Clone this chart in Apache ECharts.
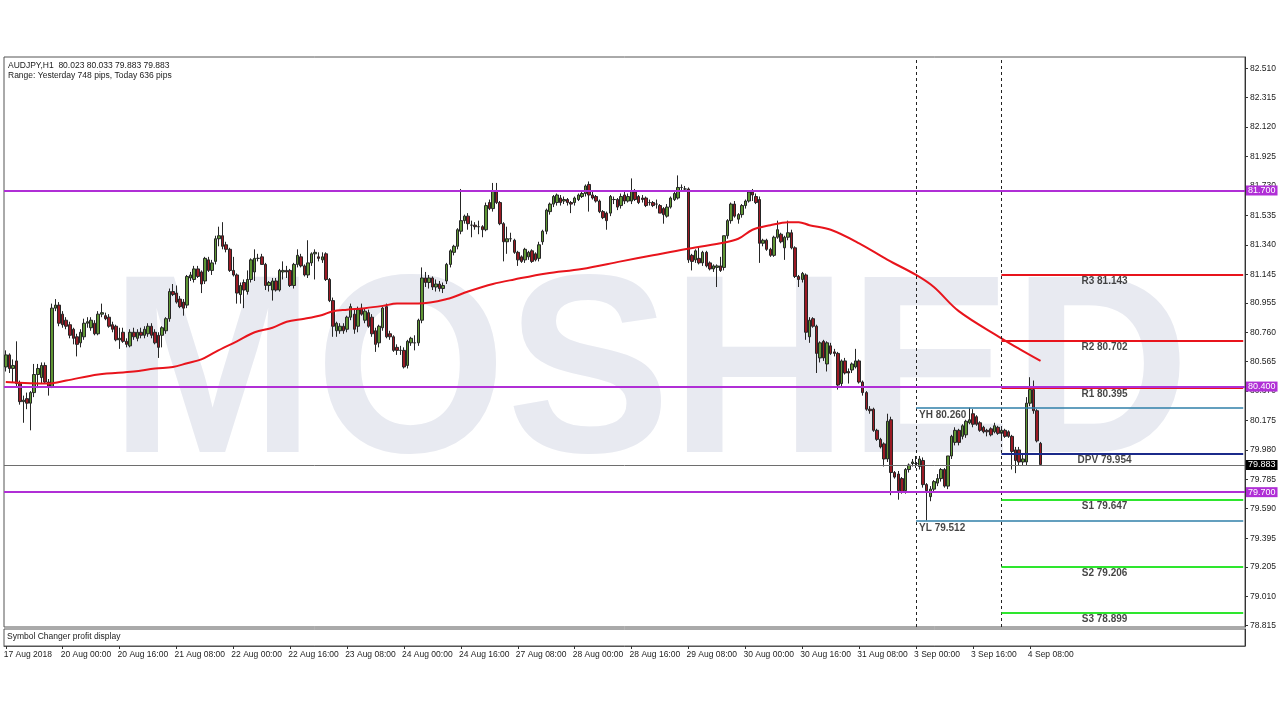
<!DOCTYPE html>
<html><head><meta charset="utf-8">
<script src="https://cdn.jsdelivr.net/npm/echarts@6/dist/echarts.min.js"></script>
<style>html,body{margin:0;padding:0;background:#fff}#c{width:1280px;height:720px}</style>
</head><body><div id="c"></div>
<script>
// ---- DATA ----
const dayList = [['17 Aug',8,24],['20 Aug',0,24],['21 Aug',0,24],['22 Aug',0,24],['23 Aug',0,24],['24 Aug',0,24],
  ['27 Aug',0,24],['28 Aug',0,24],['29 Aug',0,24],['30 Aug',0,24],['31 Aug',0,24],['3 Sep',0,24],['4 Sep',0,24],['5 Sep',0,24],['6 Sep',0,21]];
const xTickLabels = ['17 Aug 2018','20 Aug 00:00','20 Aug 16:00','21 Aug 08:00','22 Aug 00:00','22 Aug 16:00','23 Aug 08:00',
  '24 Aug 00:00','24 Aug 16:00','27 Aug 08:00','28 Aug 00:00','28 Aug 16:00','29 Aug 08:00','30 Aug 00:00','30 Aug 16:00',
  '31 Aug 08:00','3 Sep 00:00','3 Sep 16:00','4 Sep 08:00'];
const yTicks = [82.510,82.315,82.120,81.925,81.730,81.535,81.340,81.145,80.955,80.760,80.565,80.370,80.175,79.980,79.785,79.590,79.395,79.205,79.010,78.815];

const opens = [
80.53,80.61,80.52,80.57,80.42,80.30,80.32,80.29,80.36,80.48,
80.46,80.54,80.43,80.40,80.92,80.94,80.88,80.84,80.81,80.78,
80.73,80.69,80.73,80.82,80.79,80.82,80.75,80.88,80.87,80.86,
80.81,80.80,80.71,80.76,80.70,80.67,80.76,80.72,80.76,80.74,
80.75,80.80,80.76,80.74,80.74,80.77,80.85,81.03,81.02,80.98,
80.96,80.94,81.12,81.11,81.18,81.16,81.10,81.24,81.17,81.23,
81.38,81.40,81.34,81.31,81.17,81.14,81.01,81.09,81.03,81.11,
81.16,81.25,81.26,81.21,81.07,81.04,81.10,81.04,81.16,81.17,
81.17,81.07,81.21,81.26,81.20,81.14,81.22,81.28,81.26,81.24,
81.28,81.11,80.97,80.77,80.77,80.80,80.78,80.86,80.88,80.80,
80.92,80.84,80.89,80.86,80.77,80.69,80.79,80.93,80.75,80.73,
80.66,80.64,80.64,80.54,80.69,80.69,80.69,80.84,81.12,81.09,
81.12,81.06,81.08,81.05,81.10,81.21,81.29,81.33,81.43,81.50,
81.53,81.47,81.47,81.46,81.46,81.44,81.62,81.58,81.70,81.62,
81.48,81.36,81.38,81.37,81.29,81.26,81.24,81.26,81.30,81.28,
81.25,81.36,81.43,81.56,81.61,81.62,81.65,81.63,81.64,81.62,
81.62,81.64,81.66,81.68,81.74,81.67,81.66,81.63,81.56,81.55,
81.55,81.64,81.64,81.60,81.67,81.63,81.63,81.69,81.66,81.65,
81.65,81.62,81.62,81.61,81.60,81.58,81.53,81.59,81.64,81.65,
81.72,81.71,81.71,81.27,81.24,81.25,81.22,81.29,81.22,81.18,
81.19,81.20,81.19,81.40,81.50,81.61,81.51,81.54,81.60,81.63,
81.69,81.66,81.64,81.35,81.37,81.31,81.27,81.39,81.41,81.32,
81.39,81.42,81.32,81.13,81.11,81.14,80.73,80.85,80.80,80.59,
80.70,80.55,80.67,80.63,80.62,80.42,80.57,80.50,80.51,80.53,
80.57,80.43,80.36,80.25,80.25,80.11,80.05,80.02,79.92,80.18,
79.83,79.82,79.79,79.71,79.85,79.89,79.89,79.87,79.91,79.75,
79.67,79.72,79.76,79.79,79.85,79.74,79.94,80.03,80.11,80.07,
80.08,80.16,80.22,80.20,80.16,80.13,80.11,80.12,80.10,80.13,
80.09,80.11,80.10,80.07,79.98,79.98,79.90,79.90,80.29,80.38,
80.24,80.023];
const highs = [
80.64,80.62,80.58,80.70,80.44,80.34,80.36,80.37,80.55,80.55,
80.56,80.56,80.45,80.95,80.98,80.96,80.90,80.86,80.83,80.79,
80.75,80.78,80.85,80.86,80.86,80.84,80.90,80.95,80.89,80.88,
80.83,80.81,80.79,80.79,80.72,80.78,80.79,80.78,80.79,80.80,
80.82,80.82,80.78,80.76,80.80,80.86,81.05,81.08,81.07,81.00,
80.98,81.14,81.16,81.20,81.20,81.17,81.26,81.26,81.24,81.40,
81.46,81.49,81.36,81.32,81.26,81.15,81.09,81.11,81.17,81.25,
81.31,81.28,81.28,81.22,81.10,81.12,81.12,81.18,81.23,81.20,
81.18,81.22,81.31,81.28,81.21,81.37,81.29,81.31,81.29,81.29,
81.29,81.12,80.99,80.83,80.82,80.82,80.87,80.95,80.91,80.93,
80.95,80.92,80.91,80.88,80.79,80.81,80.93,80.95,80.77,80.74,
80.68,80.67,80.66,80.71,80.73,80.74,80.85,81.19,81.16,81.14,
81.13,81.11,81.10,81.09,81.22,81.31,81.34,81.45,81.71,81.54,
81.55,81.50,81.49,81.50,81.47,81.62,81.64,81.75,81.75,81.63,
81.49,81.46,81.42,81.38,81.30,81.27,81.32,81.30,81.31,81.29,
81.36,81.44,81.58,81.62,81.67,81.68,81.67,81.66,81.65,81.63,
81.66,81.68,81.69,81.74,81.76,81.69,81.67,81.64,81.57,81.56,
81.67,81.66,81.65,81.68,81.69,81.68,81.78,81.71,81.67,81.67,
81.66,81.64,81.63,81.64,81.61,81.59,81.61,81.66,81.69,81.80,
81.74,81.73,81.72,81.28,81.31,81.33,81.30,81.30,81.23,81.21,
81.21,81.26,81.40,81.51,81.62,81.63,81.55,81.61,81.64,81.70,
81.71,81.68,81.66,81.38,81.38,81.32,81.40,81.50,81.42,81.40,
81.50,81.44,81.33,81.14,81.16,81.15,80.86,80.86,80.81,80.70,
80.71,80.70,80.69,80.65,80.63,80.58,80.59,80.52,80.56,80.65,
80.58,80.44,80.37,80.27,80.26,80.12,80.06,80.03,80.22,80.20,
79.84,79.84,79.80,79.86,79.89,79.92,79.94,79.94,79.93,79.76,
79.74,79.78,79.82,79.86,79.86,79.94,80.08,80.13,80.12,80.15,
80.18,80.26,80.25,80.21,80.17,80.14,80.12,80.13,80.16,80.14,
80.12,80.12,80.11,80.08,80.00,80.00,79.95,80.33,80.462,80.44,
80.25,80.033];
const lows = [
80.50,80.49,80.43,80.40,80.28,80.16,80.25,80.11,80.33,80.39,
80.42,80.42,80.34,80.39,80.90,80.80,80.79,80.78,80.72,80.68,
80.60,80.66,80.71,80.79,80.77,80.74,80.74,80.86,80.84,80.79,
80.76,80.70,80.65,80.69,80.66,80.66,80.71,80.70,80.72,80.72,
80.73,80.72,80.68,80.59,80.66,80.75,80.83,81.00,80.95,80.92,
80.87,80.92,81.10,81.09,81.12,81.02,81.08,81.16,81.14,81.21,
81.33,81.31,81.29,81.16,81.13,80.95,80.95,80.92,81.01,81.09,
81.10,81.23,81.21,81.04,81.03,80.97,81.03,81.03,81.11,81.12,
81.06,81.05,81.19,81.19,81.13,81.12,81.20,81.11,81.23,81.22,
81.10,80.96,80.73,80.73,80.75,80.75,80.76,80.84,80.75,80.76,
80.87,80.82,80.79,80.73,80.63,80.66,80.77,80.72,80.71,80.63,
80.61,80.61,80.52,80.52,80.67,80.64,80.67,80.82,81.06,81.05,
81.04,81.03,81.03,81.02,81.08,81.19,81.27,81.31,81.41,81.48,
81.44,81.39,81.44,81.41,81.39,81.43,81.57,81.56,81.61,81.47,
81.23,81.28,81.36,81.28,81.20,81.22,81.22,81.24,81.22,81.23,
81.23,81.34,81.41,81.54,81.59,81.60,81.60,81.61,81.60,81.55,
81.60,81.63,81.65,81.66,81.56,81.64,81.62,81.55,81.51,81.44,
81.53,81.61,81.57,81.58,81.61,81.62,81.61,81.63,81.61,81.62,
81.59,81.60,81.59,81.58,81.55,81.48,81.52,81.58,81.63,81.64,
81.70,81.69,81.22,81.17,81.22,81.21,81.20,81.19,81.17,81.16,
81.06,81.16,81.17,81.38,81.48,81.52,81.48,81.52,81.58,81.62,
81.63,81.61,81.22,81.33,81.30,81.26,81.26,81.38,81.35,81.24,
81.37,81.31,81.12,81.06,81.09,80.71,80.69,80.79,80.49,80.56,
80.57,80.50,80.61,80.60,80.38,80.40,80.48,80.42,80.49,80.52,
80.42,80.34,80.24,80.22,80.10,80.04,79.99,79.87,79.90,79.68,
79.79,79.65,79.69,79.69,79.83,79.87,79.86,79.85,79.73,79.512,
79.64,79.70,79.74,79.77,79.73,79.72,79.92,80.01,80.01,80.05,
80.06,80.15,80.13,80.14,80.10,80.09,80.07,80.07,80.09,80.08,
80.05,80.06,80.06,79.85,79.826,79.88,79.88,79.88,80.27,80.22,
80.03,79.883];
const closes = [
80.61,80.52,80.54,80.42,80.30,80.31,80.29,80.36,80.48,80.52,
80.54,80.43,80.40,80.92,80.94,80.82,80.81,80.80,80.74,80.72,
80.68,80.76,80.82,80.83,80.84,80.75,80.88,80.89,80.85,80.80,
80.78,80.71,80.72,80.70,80.68,80.76,80.73,80.76,80.74,80.78,
80.80,80.74,80.69,80.66,80.79,80.85,81.03,81.01,80.96,80.93,
80.92,81.13,81.14,81.18,81.13,81.08,81.25,81.17,81.22,81.38,
81.40,81.33,81.31,81.17,81.14,81.02,81.07,81.04,81.11,81.24,
81.25,81.25,81.21,81.07,81.09,81.10,81.04,81.17,81.17,81.16,
81.07,81.21,81.27,81.20,81.14,81.22,81.28,81.29,81.25,81.26,
81.11,80.97,80.80,80.82,80.80,80.77,80.86,80.93,80.78,80.91,
80.88,80.90,80.80,80.75,80.68,80.80,80.92,80.73,80.73,80.64,
80.64,80.64,80.53,80.70,80.72,80.69,80.84,81.12,81.09,81.12,
81.06,81.08,81.05,81.07,81.21,81.30,81.33,81.44,81.50,81.53,
81.48,81.47,81.46,81.46,81.44,81.60,81.58,81.70,81.62,81.48,
81.36,81.38,81.38,81.29,81.24,81.23,81.31,81.29,81.23,81.24,
81.34,81.43,81.57,81.61,81.66,81.67,81.62,81.64,81.62,81.61,
81.65,81.67,81.68,81.73,81.67,81.65,81.63,81.56,81.52,81.50,
81.66,81.64,81.59,81.66,81.63,81.66,81.70,81.64,81.62,81.64,
81.60,81.62,81.60,81.61,81.55,81.54,81.59,81.65,81.68,81.72,
81.72,81.71,81.24,81.23,81.30,81.22,81.29,81.20,81.18,81.20,
81.20,81.17,81.40,81.50,81.61,81.53,81.54,81.60,81.63,81.69,
81.67,81.62,81.35,81.37,81.31,81.27,81.39,81.44,81.36,81.39,
81.42,81.32,81.13,81.11,81.15,80.76,80.84,80.80,80.62,80.69,
80.59,80.69,80.62,80.62,80.41,80.57,80.49,80.49,80.55,80.57,
80.43,80.36,80.25,80.24,80.11,80.05,80.00,79.92,80.17,79.83,
79.80,79.71,79.70,79.85,79.88,79.90,79.89,79.92,79.75,79.71,
79.72,79.77,79.79,79.85,79.74,79.94,80.07,80.11,80.03,80.14,
80.17,80.18,80.15,80.15,80.11,80.10,80.10,80.08,80.14,80.09,
80.11,80.07,80.07,79.97,79.91,79.90,79.92,80.29,80.38,80.24,
80.04,79.883];

// moving average read at sampled bars
const maBars = [0,12,17,26,36,42,47,51,55,59,65,70,75,79,84,89,92,96,101,106,110,116,124,130,137,143,152,162,173,182,191,201,206,210,215,220,223,226,232,240,248,256,261,268,280,285,291];
const maValues = [80.43,80.42,80.44,80.48,80.50,80.52,80.53,80.555,80.58,80.63,80.70,80.76,80.79,80.83,80.85,80.875,80.90,80.91,80.92,80.935,80.95,80.95,80.98,81.03,81.08,81.11,81.15,81.18,81.23,81.27,81.31,81.35,81.38,81.44,81.47,81.49,81.49,81.47,81.44,81.35,81.24,81.14,81.06,80.90,80.72,80.65,80.57];

const keyLevels = [81.700, 80.400, 79.700];
const currentPrice = 79.883;
const pivotNames = ['R3','R2','R1','DPV','S1','S2','S3'];
const pivotValues = [81.143, 80.702, 80.395, 79.954, 79.647, 79.206, 78.899];
const yesterdayNames = ['YH','YL'];
const yesterdayValues = [80.260, 79.512];
const dayStartBars = [256, 280];
const headerLines = ['AUDJPY,H1  80.023 80.033 79.883 79.883', 'Range: Yesterday 748 pips, Today 636 pips'];

// ---- BUILD ----
const categories = [];
dayList.forEach(([d, h0, h1]) => { for (let h = h0; h < h1; h++) categories.push(d + ' ' + String(h).padStart(2,'0') + ':00'); });
const lastCat = categories.length - 1;
const candles = opens.map((o, i) => [o, closes[i], lows[i], highs[i]]);

const PURPLE = '#b02fd6', RED = '#e8141c', NAVY = '#1b2a8a', LIME = '#2ee62e', STEEL = '#2f7fa8';
const pivotColors = [RED, RED, RED, NAVY, LIME, LIME, LIME];
const FONT = '"Liberation Sans", Arial, sans-serif';
const SMALL = '8.5px "Liberation Sans", Arial, sans-serif';
const PIVOT_LABEL_BAR = 309;
const pivotStart = dayStartBars[1], yStart = dayStartBars[0];

const markData = [];
dayStartBars.forEach(b => markData.push({xAxis: categories[b], lineStyle: {type: [3,3], color: '#222', width: 1}, label: {show: false}}));
pivotValues.forEach((v, k) => markData.push([{coord: [categories[pivotStart], v], lineStyle: {type: 'solid', color: pivotColors[k], width: 2}, label: {show: false}}, {coord: [categories[lastCat], v]}]));
yesterdayValues.forEach(v => markData.push([{coord: [categories[yStart], v], lineStyle: {type: 'solid', color: STEEL, width: 1.5}, label: {show: false}}, {coord: [categories[lastCat], v]}]));
markData.push({yAxis: currentPrice, lineStyle: {type: 'solid', color: '#6e6e6e', width: 1},
  label: {show: true, position: 'end', distance: 1, formatter: currentPrice.toFixed(3), backgroundColor: '#000', color: '#fff', fontSize: 9, padding: [1,2,0,2], fontFamily: FONT}});
keyLevels.forEach(v => markData.push({yAxis: v, lineStyle: {type: 'solid', color: PURPLE, width: 2},
  label: {show: true, position: 'end', distance: 1, formatter: v.toFixed(3), backgroundColor: PURPLE, color: '#fff', fontSize: 9, padding: [1,2,0,2], fontFamily: FONT}}));

const showIdx = (i) => i % 16 === 0 && i / 16 < xTickLabels.length;

const chart = echarts.init(document.getElementById('c'), null, {renderer: 'canvas'});
chart.setOption({
  animation: false,
  backgroundColor: '#fff',
  textStyle: {fontFamily: FONT},
  grid: [
    {left: 4, top: 57, width: 1241, height: 570, show: true, borderColor: '#555', borderWidth: 1, backgroundColor: 'transparent'},
    {left: 4, top: 629, width: 1241, height: 17, show: true, borderColor: '#555', borderWidth: 1, backgroundColor: 'transparent'}
  ],
  xAxis: [
    {type: 'category', gridIndex: 0, data: categories, boundaryGap: true, axisLine: {show: false}, axisTick: {show: false}, axisLabel: {show: false}, splitLine: {show: false}},
    {type: 'category', gridIndex: 1, data: categories, boundaryGap: true,
     axisLine: {show: true, lineStyle: {color: '#555'}},
     axisTick: {show: true, alignWithLabel: true, interval: showIdx, length: 3, lineStyle: {color: '#333'}},
     axisLabel: {show: true, interval: showIdx, align: 'left', margin: 4, fontSize: 8.5, color: '#222', padding: [0,0,0,-2],
       formatter: (v, i) => xTickLabels[i / 16] || ''}}
  ],
  yAxis: [
    {type: 'value', gridIndex: 0, position: 'right', min: 78.806, max: 82.585, splitLine: {show: false},
     axisLine: {show: true, lineStyle: {color: '#333'}},
     axisTick: {show: true, customValues: yTicks, length: 3, lineStyle: {color: '#333'}},
     axisLabel: {show: true, customValues: yTicks, formatter: v => v.toFixed(3), fontSize: 8.5, color: '#222', margin: 5}},
    {type: 'value', gridIndex: 1, position: 'right', min: 0, max: 1, splitLine: {show: false},
     axisLine: {show: true, lineStyle: {color: '#333'}}, axisTick: {show: false}, axisLabel: {show: false}}
  ],
  graphic: [
    {type: 'text', x: 110, y: 254, scaleX: 0.965, z: 1, silent: true,
     style: {text: 'MOSHED', font: 'bold 255px "Liberation Sans", Arial, sans-serif', fill: '#e8eaf1', textAlign: 'left', textVerticalAlign: 'top'}},
    {type: 'text', left: 8, top: 61, z: 10, style: {text: headerLines[0], font: SMALL, fill: '#1a1a1a'}},
    {type: 'text', left: 8, top: 71, z: 10, style: {text: headerLines[1], font: SMALL, fill: '#1a1a1a'}},
    {type: 'text', left: 7, top: 632, z: 10, style: {text: 'Symbol Changer profit display', font: SMALL, fill: '#1a1a1a'}}
  ],
  series: [
    {type: 'candlestick', xAxisIndex: 0, yAxisIndex: 0, data: candles, barWidth: 3, z: 3,
     itemStyle: {color: '#5e9634', color0: '#9a1a24', borderColor: '#262626', borderColor0: '#262626', borderWidth: 1}},
    {type: 'line', xAxisIndex: 0, yAxisIndex: 0, data: maBars.map((b, k) => [categories[b], maValues[k]]),
     showSymbol: false, smooth: 0.35, lineStyle: {color: RED, width: 2}, z: 4, silent: true},
    {type: 'line', xAxisIndex: 0, yAxisIndex: 0, data: [], z: 5, silent: true,
     markLine: {symbol: 'none', silent: true, animation: false, data: markData}},
    {type: 'scatter', xAxisIndex: 0, yAxisIndex: 0, z: 6, symbolSize: 1, itemStyle: {color: 'rgba(0,0,0,0)'}, silent: true,
     data: pivotValues.map((v, k) => ({name: pivotNames[k], value: [categories[PIVOT_LABEL_BAR], v]})),
     label: {show: true, position: 'bottom', distance: 1, fontWeight: 'bold', fontSize: 10, color: '#151515',
       formatter: p => p.name + ' ' + p.value[1].toFixed(3)}},
    {type: 'scatter', xAxisIndex: 0, yAxisIndex: 0, z: 6, symbolSize: 1, itemStyle: {color: 'rgba(0,0,0,0)'}, silent: true,
     data: yesterdayValues.map((v, k) => ({name: yesterdayNames[k], value: [categories[yStart], v]})),
     label: {show: true, position: 'bottom', distance: 2, align: 'left', offset: [3, 0], fontWeight: 'bold', fontSize: 10, color: '#151515',
       formatter: p => p.name + ' ' + p.value[1].toFixed(3)}}
  ]
});
</script>
</body></html>
